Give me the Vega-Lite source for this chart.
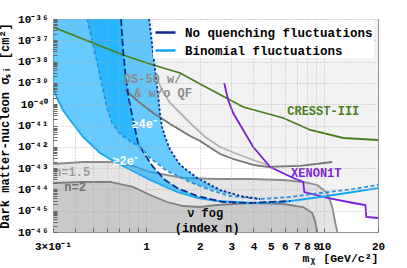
{
  "$schema": "https://vega.github.io/schema/vega-lite/v6.json",
  "width": 325,
  "height": 213,
  "autosize": "none",
  "padding": {"left": 53, "top": 19, "right": 29, "bottom": 36},
  "background": "white",
  "config": {"view": {"stroke": "#8a8a8a", "strokeWidth": 1}, "font": "Liberation Mono"},
  "datasets": {
    "env": [
      {"m":0.300,"v":4.21e-37},{"m":0.742,"v":2.04e-38},{"m":0.752,"v":1.64e-38},{"m":0.761,"v":4.64e-40},
      {"m":0.925,"v":1.14e-40},{"m":1.094,"v":3.86e-41},{"m":1.363,"v":1.18e-41},{"m":1.765,"v":3.21e-42},
      {"m":2.009,"v":1.87e-42},{"m":2.603,"v":4.59e-43},{"m":3.078,"v":2.67e-43},{"m":3.989,"v":1.40e-43},
      {"m":4.780,"v":1.13e-43},{"m":4.969,"v":1.13e-43},{"m":6.690,"v":3.43e-44},{"m":7.614,"v":2.23e-44},
      {"m":7.71,"v":7.55e-45},{"m":10.385,"v":3.95e-45},{"m":14.539,"v":2.30e-45},{"m":16.978,"v":1.85e-45},
      {"m":17.2,"v":5.06e-46},{"m":20,"v":4.54e-46}
    ],
    "fog15": [
      {"m":0.300,"v":1.56e-43},{"m":0.442,"v":1.93e-43},{"m":0.627,"v":1.93e-43},{"m":0.844,"v":1.26e-43},
      {"m":1.052,"v":6.56e-44},{"m":1.612,"v":3.43e-44},{"m":2.504,"v":3.08e-44},{"m":3.837,"v":3.08e-44},
      {"m":5.879,"v":2.76e-44},{"m":7.614,"v":2.23e-44},{"m":9.127,"v":1.61e-44},{"m":10.385,"v":6.78e-45},
      {"m":11.079,"v":1.49e-45},{"m":11.518,"v":2.64e-46},{"m":11.820,"v":1e-46}
    ],
    "fog2": [
      {"m":0.300,"v":2.00e-44},{"m":0.442,"v":2.23e-44},{"m":0.627,"v":2.23e-44},{"m":0.844,"v":1.30e-44},
      {"m":1.052,"v":5.46e-45},{"m":1.311,"v":2.56e-45},{"m":1.612,"v":1.66e-45},{"m":2.009,"v":1.49e-45},
      {"m":2.504,"v":1.85e-45},{"m":3.837,"v":2.30e-45},{"m":5.879,"v":2.06e-45},{"m":7.614,"v":1.49e-45},
      {"m":8.556,"v":7.80e-46},{"m":8.894,"v":2.95e-46},{"m":9.127,"v":1e-46}
    ],
    "band2": [
      {"m":0.300,"v":5.76e-40,"v2":1e-36},{"m":0.316,"v":1.95e-40,"v2":1e-36},{"m":0.341,"v":5.34e-41,"v2":1e-36},
      {"m":0.374,"v":1.81e-41,"v2":1e-36},{"m":0.442,"v":2.88e-42,"v2":1e-36},{"m":0.551,"v":5.12e-43,"v2":1e-36},
      {"m":0.652,"v":2.15e-43,"v2":1e-36},{"m":0.723,"v":1.40e-43,"v2":1e-36},{"m":0.742,"v":1.32e-43,"v2":3.50e-38},
      {"m":0.771,"v":1.19e-43,"v2":1.37e-39},{"m":0.802,"v":1.01e-43,"v2":1.57e-40},{"m":0.844,"v":8.14e-44,"v2":1.81e-41},
      {"m":0.901,"v":5.89e-44,"v2":1.51e-42},{"m":0.986,"v":3.82e-44,"v2":4.12e-43},{"m":1.094,"v":2.48e-44,"v2":1.13e-43},
      {"m":1.277,"v":1.44e-44,"v2":2.76e-44},{"m":1.492,"v":7.55e-45,"v2":1.16e-44},{"m":1.933,"v":3.95e-45,"v2":4.90e-45},
      {"m":2.200,"v":3.36e-45,"v2":3.54e-45}
    ],
    "band4": [
      {"m":0.466,"v":1e-36,"v2":1e-36},{"m":0.497,"v":1.03e-37,"v2":1e-36},{"m":0.530,"v":9.58e-39,"v2":1e-36},
      {"m":0.565,"v":7.97e-40,"v2":1e-36},{"m":0.603,"v":6.63e-41,"v2":1e-36},{"m":0.644,"v":1.31e-41,"v2":1e-36},
      {"m":0.714,"v":3.99e-42,"v2":1e-36},{"m":0.812,"v":1.87e-42,"v2":1e-36},{"m":0.925,"v":9.78e-43,"v2":1e-36},
      {"m":1.039,"v":3.32e-43,"v2":1e-36},{"m":1.080,"v":2.67e-43,"v2":6.02e-38},{"m":1.122,"v":2.15e-43,"v2":4.03e-39},
      {"m":1.167,"v":1.64e-43,"v2":2.70e-40},{"m":1.197,"v":1.40e-43,"v2":3.11e-41},{"m":1.229,"v":1.26e-43,"v2":8.51e-42},
      {"m":1.277,"v":9.07e-44,"v2":2.88e-42},{"m":1.363,"v":6.56e-44,"v2":7.08e-43},{"m":1.551,"v":3.82e-44,"v2":1.40e-43},
      {"m":1.933,"v":1.61e-44,"v2":3.43e-44},{"m":2.603,"v":7.55e-45,"v2":9.37e-45},{"m":3.159,"v":5.46e-45,"v2":5.46e-45}
    ],
    "lines": [
      {"s":"DS-50 w/o QF","m":1.122,"v":2.35e-39},{"s":"DS-50 w/o QF","m":1.245,"v":3.74e-40},{"s":"DS-50 w/o QF","m":1.363,"v":1.14e-40},
      {"s":"DS-50 w/o QF","m":1.551,"v":3.86e-41},{"s":"DS-50 w/o QF","m":1.765,"v":1.31e-41},{"s":"DS-50 w/o QF","m":2.144,"v":2.88e-42},
      {"s":"DS-50 w/o QF","m":2.603,"v":9.78e-43},{"s":"DS-50 w/o QF","m":3.242,"v":4.59e-43},{"s":"DS-50 w/o QF","m":3.989,"v":2.40e-43},
      {"s":"DS-50 w/o QF","m":4.780,"v":1.40e-43},
      {"s":"DS-50 w/ QF","m":0.761,"v":4.64e-40},{"s":"DS-50 w/ QF","m":0.925,"v":1.14e-40},{"s":"DS-50 w/ QF","m":1.094,"v":3.86e-41},
      {"s":"DS-50 w/ QF","m":1.363,"v":1.18e-41},{"s":"DS-50 w/ QF","m":1.765,"v":3.21e-42},{"s":"DS-50 w/ QF","m":2.009,"v":1.87e-42},
      {"s":"DS-50 w/ QF","m":2.603,"v":4.59e-43},{"s":"DS-50 w/ QF","m":3.078,"v":2.67e-43},{"s":"DS-50 w/ QF","m":3.989,"v":1.40e-43},
      {"s":"DS-50 w/ QF","m":4.780,"v":1.13e-43},{"s":"DS-50 w/ QF","m":7.324,"v":1.26e-43},{"s":"DS-50 w/ QF","m":11.079,"v":1.93e-43},
      {"s":"CRESST-III","m":0.300,"v":4.21e-37},{"s":"CRESST-III","m":0.742,"v":2.04e-38},{"s":"CRESST-III","m":1.094,"v":6.92e-39},
      {"s":"CRESST-III","m":1.551,"v":2.92e-39},{"s":"CRESST-III","m":2.009,"v":8.88e-40},{"s":"CRESST-III","m":3.504,"v":7.39e-41},
      {"s":"CRESST-III","m":5.879,"v":2.25e-41},{"s":"CRESST-III","m":8.336,"v":6.15e-42},{"s":"CRESST-III","m":12.775,"v":2.59e-42},
      {"s":"CRESST-III","m":20,"v":2.09e-42},
      {"s":"XENON1T","m":2.740,"v":9.89e-40},{"s":"XENON1T","m":2.885,"v":1.57e-40},{"s":"XENON1T","m":3.078,"v":3.86e-41},
      {"s":"XENON1T","m":3.371,"v":1.05e-41},{"s":"XENON1T","m":3.989,"v":9.78e-43},{"s":"XENON1T","m":4.969,"v":1.13e-43},
      {"s":"XENON1T","m":6.690,"v":3.43e-44},{"s":"XENON1T","m":7.614,"v":2.23e-44},{"s":"XENON1T","m":7.71,"v":7.55e-45},
      {"s":"XENON1T","m":10.385,"v":3.95e-45},{"s":"XENON1T","m":14.539,"v":2.30e-45},{"s":"XENON1T","m":16.978,"v":1.85e-45},
      {"s":"XENON1T","m":17.2,"v":5.06e-46},{"s":"XENON1T","m":20,"v":4.54e-46},
      {"s":"Binomial fluctuations","m":0.300,"v":5.76e-40},{"s":"Binomial fluctuations","m":0.316,"v":1.95e-40},{"s":"Binomial fluctuations","m":0.341,"v":5.34e-41},
      {"s":"Binomial fluctuations","m":0.374,"v":1.81e-41},{"s":"Binomial fluctuations","m":0.442,"v":2.88e-42},{"s":"Binomial fluctuations","m":0.551,"v":5.12e-43},
      {"s":"Binomial fluctuations","m":0.652,"v":2.15e-43},{"s":"Binomial fluctuations","m":0.781,"v":1.01e-43},{"s":"Binomial fluctuations","m":1.052,"v":2.76e-44},
      {"s":"Binomial fluctuations","m":1.492,"v":7.55e-45},{"s":"Binomial fluctuations","m":1.933,"v":3.95e-45},{"s":"Binomial fluctuations","m":2.504,"v":2.85e-45},
      {"s":"Binomial fluctuations","m":3.989,"v":2.30e-45},{"s":"Binomial fluctuations","m":5.879,"v":2.56e-45},{"s":"Binomial fluctuations","m":9.487,"v":4.40e-45},
      {"s":"Binomial fluctuations","m":14.539,"v":7.55e-45},{"s":"Binomial fluctuations","m":20,"v":1.16e-44},
      {"s":"Binomial ≥4e","m":0.466,"v":1e-36},{"s":"Binomial ≥4e","m":0.497,"v":1.03e-37},{"s":"Binomial ≥4e","m":0.530,"v":9.58e-39},
      {"s":"Binomial ≥4e","m":0.565,"v":7.97e-40},{"s":"Binomial ≥4e","m":0.603,"v":6.63e-41},{"s":"Binomial ≥4e","m":0.644,"v":1.31e-41},
      {"s":"Binomial ≥4e","m":0.714,"v":3.99e-42},{"s":"Binomial ≥4e","m":0.812,"v":1.87e-42},{"s":"Binomial ≥4e","m":0.925,"v":9.78e-43},
      {"s":"Binomial ≥4e","m":1.052,"v":2.98e-43},{"s":"Binomial ≥4e","m":1.311,"v":7.31e-44},{"s":"Binomial ≥4e","m":1.765,"v":2.23e-44},
      {"s":"Binomial ≥4e","m":2.286,"v":9.37e-45},{"s":"Binomial ≥4e","m":2.962,"v":4.90e-45},{"s":"Binomial ≥4e","m":4.366,"v":3.54e-45},
      {"s":"Binomial ≥4e","m":6.437,"v":4.40e-45},{"s":"Binomial ≥4e","m":9.487,"v":6.78e-45},{"s":"Binomial ≥4e","m":14.539,"v":1.04e-44},
      {"s":"Binomial ≥4e","m":20,"v":1.61e-44},
      {"s":"No quenching fluctuations","m":0.723,"v":1e-36},{"s":"No quenching fluctuations","m":0.742,"v":3.50e-38},{"s":"No quenching fluctuations","m":0.771,"v":1.37e-39},
      {"s":"No quenching fluctuations","m":0.802,"v":1.57e-40},{"s":"No quenching fluctuations","m":0.844,"v":1.81e-41},{"s":"No quenching fluctuations","m":0.901,"v":1.51e-42},
      {"s":"No quenching fluctuations","m":0.986,"v":4.12e-43},{"s":"No quenching fluctuations","m":1.094,"v":1.13e-43},{"s":"No quenching fluctuations","m":1.277,"v":2.76e-44},
      {"s":"No quenching fluctuations","m":1.492,"v":1.16e-44},{"s":"No quenching fluctuations","m":1.933,"v":4.90e-45},{"s":"No quenching fluctuations","m":2.705,"v":2.56e-45},
      {"s":"No quenching fluctuations","m":3.837,"v":2.30e-45},{"s":"No quenching fluctuations","m":6.437,"v":2.85e-45},
      {"s":"No quenching ≥4e","m":1.039,"v":1e-36},{"s":"No quenching ≥4e","m":1.080,"v":6.02e-38},{"s":"No quenching ≥4e","m":1.122,"v":4.03e-39},
      {"s":"No quenching ≥4e","m":1.167,"v":2.70e-40},{"s":"No quenching ≥4e","m":1.197,"v":3.11e-41},{"s":"No quenching ≥4e","m":1.229,"v":8.51e-42},
      {"s":"No quenching ≥4e","m":1.277,"v":2.88e-42},{"s":"No quenching ≥4e","m":1.363,"v":7.08e-43},{"s":"No quenching ≥4e","m":1.551,"v":1.40e-43},
      {"s":"No quenching ≥4e","m":1.933,"v":3.43e-44},{"s":"No quenching ≥4e","m":2.603,"v":9.37e-45},{"s":"No quenching ≥4e","m":3.371,"v":4.90e-45},
      {"s":"No quenching ≥4e","m":4.366,"v":3.54e-45}
    ],
    "labels": [
      {"t":"DS-50 w/","m":1.087,"v":1.52e-39},
      {"t":"& w/o QF","m":1.245,"v":3.36e-40},
      {"t":"CRESST-III","m":9.86,"v":4.80e-41},
      {"t":"XENON1T","m":9.01,"v":5.89e-44},
      {"t":"≥4e⁻","m":0.974,"v":1.18e-41},
      {"t":"≥2e⁻","m":0.761,"v":2.15e-43},
      {"t":"n=1.5","m":0.384,"v":6.56e-44},
      {"t":"n=2","m":0.399,"v":1.30e-44},
      {"t":"ν fog","m":2.144,"v":7.80e-46},
      {"t":"(index n)","m":2.200,"v":1.54e-46}
    ]
  },
  "encoding": {
    "x": {
      "field": "m", "type": "quantitative",
      "scale": {"type": "log", "domain": [0.3, 20], "nice": false},
      "axis": {
        "values": [0.3,0.4,0.5,0.6,0.7,0.8,0.9,1,2,3,4,5,6,7,8,9,10,20],
        "labelExpr": "datum.value < 0.35 ? '3×10⁻¹' : (datum.value < 0.95 ? '' : format(datum.value, 'd'))",
        "labelOverlap": false, "labelFlush": false, "labelBound": false,
        "labelFont": "Liberation Mono", "labelFontWeight": "bold", "labelFontSize": 11, "labelColor": "#000",
        "tickSize": -4, "tickColor": "#666", "labelPadding": 12,
        "grid": true, "gridDash": [1, 2], "gridColor": "#a8a8a8", "gridWidth": 0.8,
        "domain": false, "zindex": 1,
        "title": "mᵪ [GeV/c²]", "titleAnchor": "end", "titleFont": "Liberation Mono", "titleFontWeight": "bold",
        "titleFontSize": 11.5, "titleColor": "#000", "titlePadding": 1
      }
    },
    "y": {
      "field": "v", "type": "quantitative",
      "scale": {"type": "log", "domain": [1e-46, 1e-36], "nice": false},
      "axis": {
        "values": [1e-46,2e-46,3e-46,4e-46,5e-46,6e-46,7e-46,8e-46,9e-46,
                   1e-45,2e-45,3e-45,4e-45,5e-45,6e-45,7e-45,8e-45,9e-45,
                   1e-44,2e-44,3e-44,4e-44,5e-44,6e-44,7e-44,8e-44,9e-44,
                   1e-43,2e-43,3e-43,4e-43,5e-43,6e-43,7e-43,8e-43,9e-43,
                   1e-42,2e-42,3e-42,4e-42,5e-42,6e-42,7e-42,8e-42,9e-42,
                   1e-41,2e-41,3e-41,4e-41,5e-41,6e-41,7e-41,8e-41,9e-41,
                   1e-40,2e-40,3e-40,4e-40,5e-40,6e-40,7e-40,8e-40,9e-40,
                   1e-39,2e-39,3e-39,4e-39,5e-39,6e-39,7e-39,8e-39,9e-39,
                   1e-38,2e-38,3e-38,4e-38,5e-38,6e-38,7e-38,8e-38,9e-38,
                   1e-37,2e-37,3e-37,4e-37,5e-37,6e-37,7e-37,8e-37,9e-37,1e-36],
        "labelExpr": "abs(log(datum.value)/LN10 - round(log(datum.value)/LN10)) < 0.01 ? '10⁻' + substring('⁰¹²³⁴⁵⁶⁷⁸⁹', floor(-round(log(datum.value)/LN10)/10), floor(-round(log(datum.value)/LN10)/10)+1) + substring('⁰¹²³⁴⁵⁶⁷⁸⁹', (-round(log(datum.value)/LN10))%10, (-round(log(datum.value)/LN10))%10+1) : ''",
        "labelOverlap": false, "labelFlush": false, "labelBound": false,
        "labelFont": "Liberation Mono", "labelFontWeight": "bold", "labelFontSize": 11, "labelColor": "#000",
        "tickSize": -4, "tickColor": "#666", "labelPadding": 9,
        "grid": true, "gridDash": [1, 2], "gridColor": "#a8a8a8", "gridWidth": 0.8,
        "gridOpacity": {"condition": {"test": "abs(log(datum.value)/LN10 - round(log(datum.value)/LN10)) < 0.01", "value": 1}, "value": 0},
        "domain": false, "zindex": 1,
        "title": "Dark matter-nucleon σₛᵢ [cm²]", "titleFont": "Liberation Mono", "titleFontWeight": "bold",
        "titleFontSize": 12, "titleColor": "#000", "titlePadding": 6
      }
    }
  },
  "layer": [
    {
      "data": {"name": "env"},
      "mark": {"type": "area", "color": "#f2f2f2", "clip": true},
      "encoding": {"y2": {"datum": 1e-36}}
    },
    {
      "data": {"name": "fog15"},
      "mark": {"type": "area", "color": "#d9d9d9", "clip": true, "line": {"color": "#8c8c8c", "strokeWidth": 1.8}},
      "encoding": {"y2": {"datum": 1e-46}}
    },
    {
      "data": {"name": "fog2"},
      "mark": {"type": "area", "color": "#bebebe", "clip": true, "line": {"color": "#808080", "strokeWidth": 1.8}},
      "encoding": {"y2": {"datum": 1e-46}}
    },
    {
      "data": {"name": "band2"},
      "mark": {"type": "area", "color": "#00aaff", "opacity": 0.6, "clip": true},
      "encoding": {"y2": {"field": "v2"}}
    },
    {
      "data": {"name": "band4"},
      "mark": {"type": "area", "color": "#00aaff", "opacity": 0.6, "clip": true},
      "encoding": {"y2": {"field": "v2"}}
    },
    {
      "data": {"name": "lines"},
      "transform": [{"filter": "indexof(['No quenching fluctuations','Binomial ≥4e','No quenching ≥4e'], datum.s) < 0"}],
      "mark": {"type": "line", "clip": true, "strokeWidth": 1.8},
      "encoding": {
        "stroke": {
          "field": "s", "type": "nominal",
          "scale": {
            "domain": ["DS-50 w/o QF","DS-50 w/ QF","CRESST-III","XENON1T","Binomial fluctuations","Binomial ≥4e","No quenching fluctuations","No quenching ≥4e"],
            "range": ["#b3b3b3","#737373","#4a7d1c","#7a1fd8","#14a6f2","#2a90e0","#0b2a8c","#0b2a8c"]
          },
          "legend": {
            "values": ["No quenching fluctuations","Binomial fluctuations"],
            "title": null, "orient": "none", "legendX": 100, "legendY": 1,
            "padding": 1, "fillColor": "white", "symbolType": "stroke", "symbolSize": 400,
            "symbolStrokeWidth": 2.5, "symbolDash": [1, 0], "labelFont": "Liberation Mono", "labelFontWeight": "bold",
            "labelFontSize": 12.5, "labelColor": "#000", "labelOffset": 8, "rowPadding": 0, "labelLimit": 300, "zindex": 2
          }
        }
      }
    },
    {
      "data": {"name": "lines"},
      "transform": [{"filter": "datum.s == 'No quenching fluctuations'"}],
      "mark": {"type": "line", "clip": true, "strokeWidth": 1.8, "strokeDash": [7, 3]},
      "encoding": {"stroke": {"field": "s", "type": "nominal"}}
    },
    {
      "data": {"name": "lines"},
      "transform": [{"filter": "datum.s == 'Binomial ≥4e'"}],
      "mark": {"type": "line", "clip": true, "strokeWidth": 1.8, "strokeDash": [4, 2.5]},
      "encoding": {"stroke": {"field": "s", "type": "nominal"}}
    },
    {
      "data": {"name": "lines"},
      "transform": [{"filter": "datum.s == 'No quenching ≥4e'"}],
      "mark": {"type": "line", "clip": true, "strokeWidth": 1.8, "strokeDash": [2.5, 2]},
      "encoding": {"stroke": {"field": "s", "type": "nominal"}}
    },
    {
      "data": {"name": "labels"},
      "mark": {"type": "text", "font": "Liberation Mono", "fontWeight": "bold", "fontSize": 12, "align": "center", "baseline": "middle"},
      "encoding": {
        "text": {"field": "t"},
        "color": {
          "field": "t", "type": "nominal",
          "scale": {
            "domain": ["DS-50 w/","& w/o QF","CRESST-III","XENON1T","≥4e⁻","≥2e⁻","n=1.5","n=2","ν fog","(index n)"],
            "range": ["#8a8a8a","#8a8a8a","#4a7d1c","#7a1fd8","#ffffff","#ffffff","#9a9a9a","#707070","#000000","#000000"]
          },
          "legend": null
        }
      }
    }
  ]
}
